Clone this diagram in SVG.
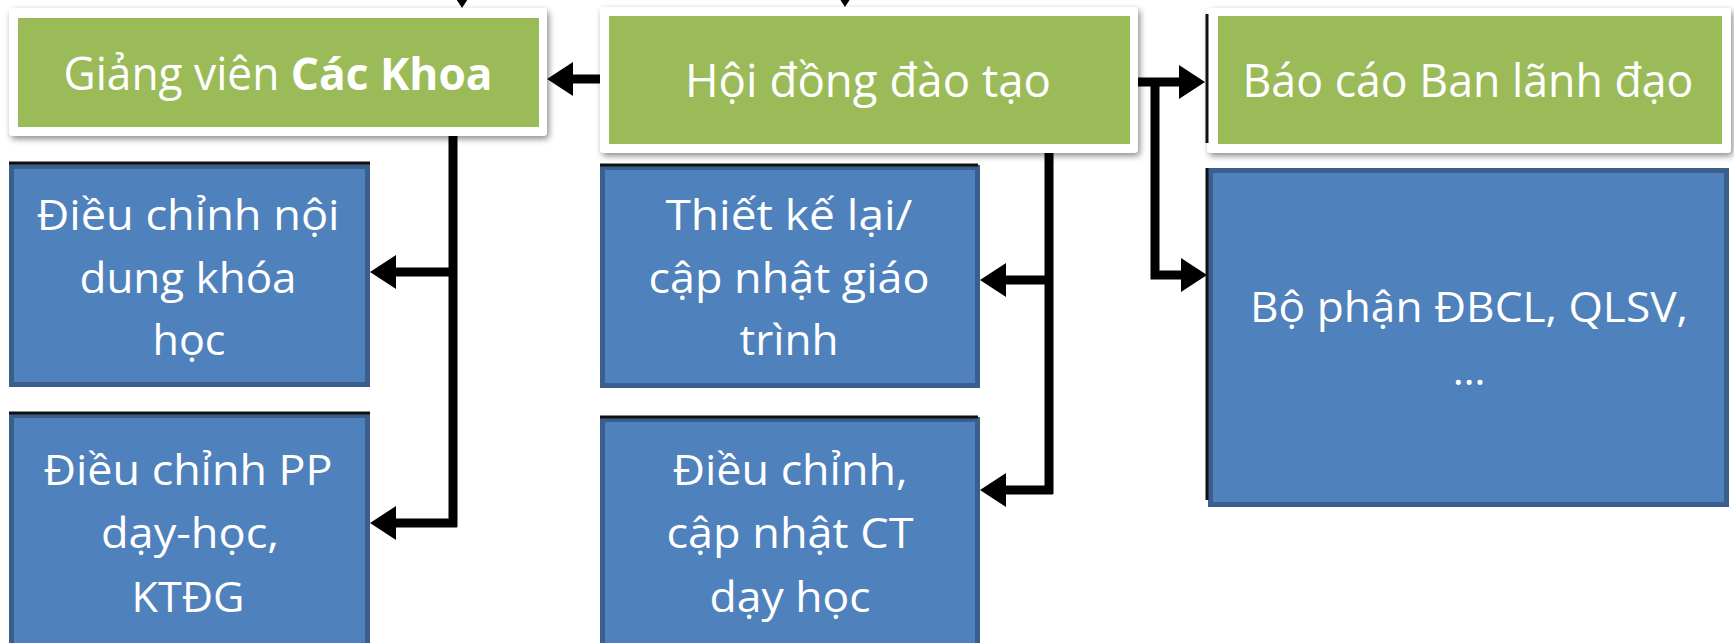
<svg xmlns="http://www.w3.org/2000/svg" width="1734" height="643" viewBox="0 0 1734 643">
<style>
.frame{fill:#ffffff;filter:url(#sh)}
.green{fill:#9bbb59}
.blue{fill:#4f81bd;stroke:#3b5f8d;stroke-width:5}
.edge{stroke:#111;stroke-width:3;fill:none}
.lbl{font-family:"Open Sans","Noto Sans",sans-serif;fill:#ffffff;text-anchor:middle}
.hd{font-size:45px}
.bd{font-size:42px}
.con{stroke:#000;stroke-width:9;fill:none;stroke-linejoin:miter}
.arr{stroke:#000;stroke-width:9;fill:none;marker-end:url(#ah)}
</style>
<defs>
<filter id="sh" x="-5%" y="-10%" width="115%" height="130%">
<feDropShadow dx="2" dy="3" stdDeviation="3" flood-color="#000" flood-opacity="0.45"/>
</filter>
<marker id="ah" markerUnits="userSpaceOnUse" markerWidth="26" markerHeight="34" viewBox="0 0 26 34" refX="8" refY="17" orient="auto">
<path d="M0,0 L26,17 L0,34 z" fill="#000"/>
</marker>
</defs>
<rect width="1734" height="643" fill="#ffffff"/>

<g id="connectors">
<line class="arr" x1="462" y1="-30" x2="462" y2="-10"/>
<line class="arr" x1="845" y1="-30" x2="845" y2="-11"/>
<line class="arr" x1="604" y1="79" x2="565" y2="79"/>
<path class="con" d="M453,136 V527"/>
<line class="arr" x1="457" y1="272" x2="388" y2="272"/>
<line class="arr" x1="457" y1="523" x2="388" y2="523"/>
<path class="con" d="M1049,150 V494"/>
<line class="arr" x1="1053" y1="280" x2="998" y2="280"/>
<line class="arr" x1="1053" y1="490" x2="998" y2="490"/>
<line class="arr" x1="1136" y1="82" x2="1187" y2="82"/>
<path class="arr" d="M1155,82 V275 H1189"/>
</g>

<g id="node-giang-vien">
<rect class="frame" x="9" y="8" width="538" height="128" rx="4"/>
<rect class="green" x="18" y="18" width="521" height="109"/>
<text class="lbl hd" x="278" y="90" textLength="429" lengthAdjust="spacingAndGlyphs">Giảng viên <tspan font-weight="bold">Các Khoa</tspan></text>
</g>

<g id="node-hoi-dong">
<rect class="frame" x="600" y="7" width="538" height="146" rx="4"/>
<rect class="green" x="609" y="16" width="521" height="128"/>
<text class="lbl hd" x="868" y="97" textLength="366" lengthAdjust="spacingAndGlyphs">Hội đồng đào tạo</text>
</g>

<g id="node-bao-cao">
<rect class="frame" x="1207" y="8" width="524" height="145" rx="4"/>
<rect class="green" x="1218" y="16" width="504" height="128"/>
<line class="edge" x1="1207" y1="14" x2="1207" y2="143"/>
<text class="lbl hd" x="1468" y="97" textLength="451" lengthAdjust="spacingAndGlyphs">Báo cáo Ban lãnh đạo</text>
</g>

<g id="node-dieu-chinh-noi-dung">
<rect class="blue" x="11.5" y="166.5" width="356" height="218"/>
<line class="edge" x1="9" y1="163" x2="370" y2="163"/>
<text class="lbl bd" x="188" y="230" textLength="303" lengthAdjust="spacingAndGlyphs">Điều chỉnh nội</text>
<text class="lbl bd" x="188" y="293" textLength="217" lengthAdjust="spacingAndGlyphs">dung khóa</text>
<text class="lbl bd" x="189" y="355" textLength="73" lengthAdjust="spacingAndGlyphs">học</text>
</g>

<g id="node-dieu-chinh-pp">
<rect class="blue" x="11.5" y="415.5" width="356" height="240"/>
<line class="edge" x1="9" y1="413" x2="370" y2="413"/>
<text class="lbl bd" x="188" y="485" textLength="289" lengthAdjust="spacingAndGlyphs">Điều chỉnh PP</text>
<text class="lbl bd" x="190" y="548" textLength="178" lengthAdjust="spacingAndGlyphs">dạy-học,</text>
<text class="lbl bd" x="188" y="612" textLength="113" lengthAdjust="spacingAndGlyphs">KTĐG</text>
</g>

<g id="node-thiet-ke">
<rect class="blue" x="602.5" y="167.5" width="375" height="218"/>
<line class="edge" x1="600" y1="165" x2="978" y2="165"/>
<text class="lbl bd" x="789" y="230" textLength="247" lengthAdjust="spacingAndGlyphs">Thiết kế lại/</text>
<text class="lbl bd" x="789" y="293" textLength="281" lengthAdjust="spacingAndGlyphs">cập nhật giáo</text>
<text class="lbl bd" x="789" y="355" textLength="99" lengthAdjust="spacingAndGlyphs">trình</text>
</g>

<g id="node-dieu-chinh-ct">
<rect class="blue" x="602.5" y="419.5" width="375" height="240"/>
<line class="edge" x1="600" y1="417" x2="978" y2="417"/>
<text class="lbl bd" x="790" y="485" textLength="235" lengthAdjust="spacingAndGlyphs">Điều chỉnh,</text>
<text class="lbl bd" x="790" y="548" textLength="247" lengthAdjust="spacingAndGlyphs">cập nhật CT</text>
<text class="lbl bd" x="790" y="612" textLength="161" lengthAdjust="spacingAndGlyphs">dạy học</text>
</g>

<g id="node-bo-phan">
<rect class="blue" x="1210.5" y="170.5" width="516" height="334"/>
<line class="edge" x1="1207" y1="168" x2="1207" y2="500"/>
<text class="lbl bd" x="1469" y="322" textLength="438" lengthAdjust="spacingAndGlyphs">Bộ phận ĐBCL, QLSV,</text>
<text class="lbl bd" x="1469" y="385">…</text>
</g>
</svg>
